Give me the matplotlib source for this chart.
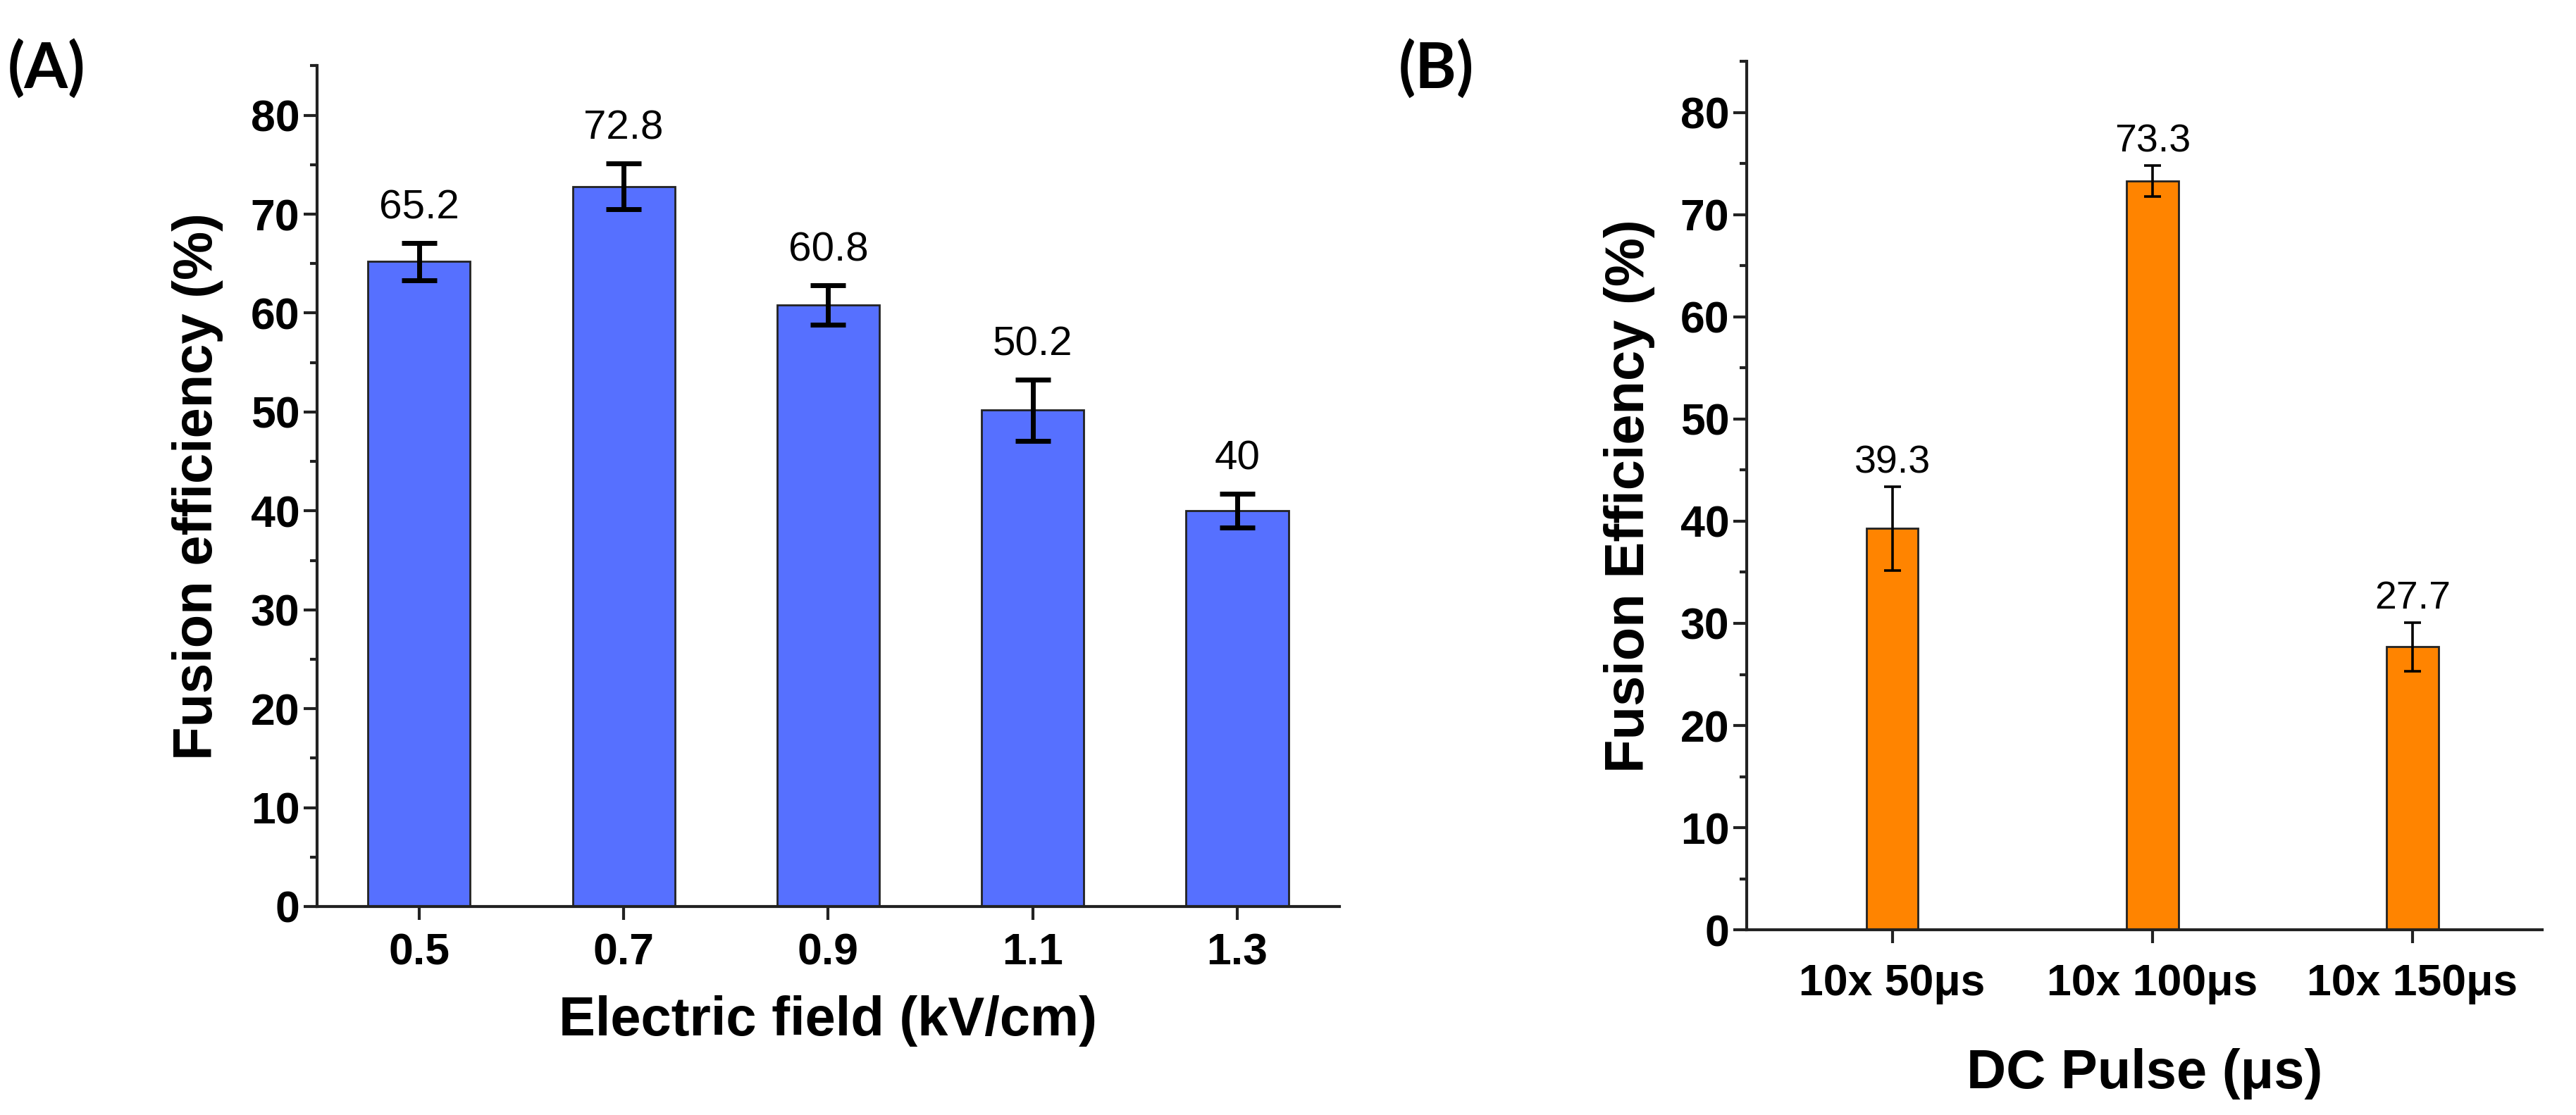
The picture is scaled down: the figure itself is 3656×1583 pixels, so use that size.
import numpy as np
import matplotlib
matplotlib.use("Agg")
import matplotlib.pyplot as plt
from matplotlib.ticker import MultipleLocator

plt.rcParams['font.family'] = ['Liberation Sans', 'DejaVu Sans']

# panel A data
field = [0.5, 0.7, 0.9, 1.1, 1.3]
field_labels = ['0.5', '0.7', '0.9', '1.1', '1.3']
eff_a = [65.2, 72.8, 60.8, 50.2, 40.0]
err_a = [1.9, 2.3, 2.0, 3.1, 1.7]
text_a = ['65.2', '72.8', '60.8', '50.2', '40']

# panel B data
pulses = ['10x 50μs', '10x 100μs', '10x 150μs']
eff_b = [39.3, 73.3, 27.7]
err_b = [4.1, 1.5, 2.4]
text_b = ['39.3', '73.3', '27.7']

fig = plt.figure(figsize=(36.56, 15.83), dpi=100)

def style_axis(ax):
    for s in ['top', 'right']:
        ax.spines[s].set_visible(False)
    for s in ['left', 'bottom']:
        ax.spines[s].set_linewidth(3)
        ax.spines[s].set_color('#222222')
    ax.set_ylim(0, 85)
    ax.yaxis.set_major_locator(MultipleLocator(10))
    ax.yaxis.set_minor_locator(MultipleLocator(5))
    ax.tick_params(axis='both', which='major', direction='out', length=14, width=3,
                   labelsize=45, color='#222222')
    ax.tick_params(axis='y', which='minor', direction='out', length=7, width=3, color='#222222')
    for lab in ax.get_xticklabels() + ax.get_yticklabels():
        lab.set_fontweight('bold')

# ---- (A)
ax1 = fig.add_axes([0.123, 0.187, 0.397, 0.754])
ax1.bar(field, eff_a, width=0.1, color='#5670FF', edgecolor='#222222', linewidth=2, zorder=2)
ax1.errorbar(field, eff_a, yerr=err_a, fmt='none', ecolor='black', elinewidth=5,
             capsize=18, capthick=5, zorder=3)
for x, y, e, t in zip(field, eff_a, err_a, text_a):
    ax1.text(x, y + e + 1.6, t, ha='center', va='bottom', fontsize=42)
ax1.set_xlim(0.4, 1.4)
ax1.set_xticks(field)
ax1.set_xticklabels(field_labels)
style_axis(ax1)
ax1.tick_params(axis='x', pad=12)
ax1.set_ylabel('Fusion efficiency (%)', fontsize=56, fontweight='bold', labelpad=28)
ax1.set_xlabel('Electric field (kV/cm)', fontsize=56, fontweight='bold', labelpad=22)
fig.text(0.003, 0.965, '(A)', fontsize=64, fontweight='bold', family='Lato', va='top')

# ---- (B)
xb = np.arange(len(pulses))
ax2 = fig.add_axes([0.678, 0.166, 0.309, 0.779])
ax2.bar(xb, eff_b, width=0.2, color='#FF8400', edgecolor='#222222', linewidth=2, zorder=2)
ax2.errorbar(xb, eff_b, yerr=err_b, fmt='none', ecolor='black', elinewidth=2.6,
             capsize=8.5, capthick=2.6, zorder=3)
for x, y, e, t in zip(xb, eff_b, err_b, text_b):
    ax2.text(x, y + e + 0.5, t, ha='center', va='bottom', fontsize=40)
ax2.set_xlim(-0.56, 2.5)
ax2.set_xticks(xb)
ax2.set_xticklabels(pulses)
style_axis(ax2)
ax2.tick_params(axis='x', pad=20)
ax2.set_ylabel('Fusion Efficiency (%)', fontsize=56, fontweight='bold', labelpad=26)
ax2.set_xlabel('DC Pulse (μs)', fontsize=56, fontweight='bold', labelpad=44)
fig.text(0.543, 0.965, '(B)', fontsize=64, fontweight='bold', family='Lato', va='top')

fig.savefig('out.png', dpi=100)
